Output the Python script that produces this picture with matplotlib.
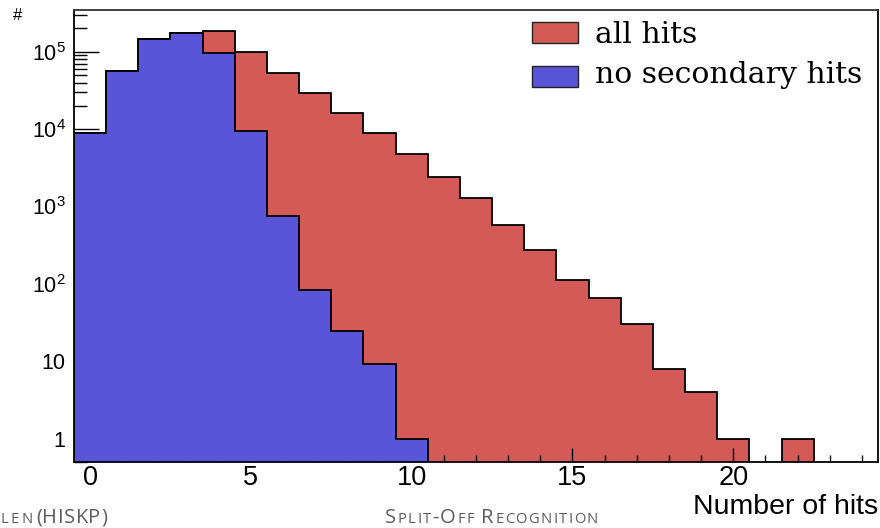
import numpy as np
import matplotlib
matplotlib.use("Agg")
import matplotlib.pyplot as plt
from matplotlib.patches import Rectangle
from matplotlib.ticker import FixedLocator, LogLocator, NullFormatter, FixedFormatter

# ---------------- data ----------------
bin_edges = [i - 0.5 for i in range(26)]          # 25 bins, centred on 0..24
all_hits = [8830, 56900, 146000, 176000, 185000, 98200, 53600, 29000, 16000,
            8830, 4720, 2380, 1300, 582, 277, 112, 65, 30, 8, 4, 1, 0, 1, 0, 0]
no_secondary_hits = [8830, 56900, 146000, 176000, 95300, 9530, 753, 83, 24.6,
                     9.1, 1, 0, 0, 0, 0, 0, 0, 0, 0, 0, 0, 0, 0, 0, 0]
legend_labels = ["all hits", "no secondary hits"]
x_major_ticks = [0, 5, 10, 15, 20]
y_major_ticks = [1, 10, 100, 1000, 10000, 100000]
y_tick_labels = ["1", "10", r"$\mathregular{10^{2}}$", r"$\mathregular{10^{3}}$",
                 r"$\mathregular{10^{4}}$", r"$\mathregular{10^{5}}$"]
x_label = "Number of hits"
y_label = "#"
footer_left_a = "len"
footer_left_b = "(HISKP)"
footer_mid = "Split-Off Recognition"

RED = "#d45a57"
BLUE = "#5a54d9"

plt.rcParams["mathtext.fontset"] = "custom"
plt.rcParams["mathtext.rm"] = "Liberation Sans"
plt.rcParams["mathtext.it"] = "Liberation Sans:italic"
plt.rcParams["mathtext.bf"] = "Liberation Sans:bold"

W, H = 880, 528
fig = plt.figure(figsize=(W / 100, H / 100), dpi=100)
ax = fig.add_axes([74 / W, 1 - 462 / H, (878 - 74) / W, (462 - 10) / H])
ax.set_yscale("log")

def positive(v):
    v = np.asarray(v, dtype=float)
    return np.where(v > 0, v, 1e-3)

ax.stairs(positive(all_hits), bin_edges, baseline=1e-3, fill=True,
          facecolor=RED, edgecolor="black", linewidth=1.3, zorder=1)
ax.stairs(positive(no_secondary_hits), bin_edges, baseline=1e-3, fill=True,
          facecolor=BLUE, edgecolor="black", linewidth=1.3, zorder=3)

ax.set_xlim(-0.5, 24.5)
ax.set_ylim(0.5, 3.46e5)

for s in ax.spines.values():
    s.set_zorder(5)
    s.set_linewidth(1.3)
ax.spines["top"].set_color("#333333")

ax.xaxis.set_major_locator(FixedLocator(x_major_ticks))
ax.xaxis.set_minor_locator(FixedLocator(range(0, 25)))
ax.yaxis.set_major_locator(FixedLocator(y_major_ticks))
ax.yaxis.set_major_formatter(FixedFormatter(y_tick_labels))
ax.yaxis.set_minor_locator(LogLocator(base=10, subs=np.arange(2, 10)))
ax.yaxis.set_minor_formatter(NullFormatter())

ax.tick_params(axis="x", which="major", direction="in", length=10, width=1.0,
               labelsize=19.5, pad=2, top=False)
ax.tick_params(axis="x", which="minor", direction="in", length=4.7, width=1.0, top=False)
ax.tick_params(axis="y", which="major", direction="in", length=18, width=1.0,
               labelsize=15.5, pad=6, right=False)
ax.tick_params(axis="y", which="minor", direction="in", length=9.4, width=1.0, right=False)
for lab in ax.get_xticklabels() + ax.get_yticklabels():
    lab.set_family("Liberation Sans")

# axis titles
fig.text(878 / W, 1 - 514 / H, x_label, ha="right", va="baseline",
         fontsize=20.5, family="Liberation Sans")
fig.text(18 / W, 1 - 15 / H, y_label, ha="center", va="center",
         fontsize=12, family="Liberation Sans")

# legend (ROOT-style, no visible border)
def px(x, y):
    return x / W, 1 - y / H

for i, (lab, col) in enumerate(zip(legend_labels, [RED, BLUE])):
    y_top = 22 + i * 44
    fig.add_artist(Rectangle(px(532, y_top + 21), 46 / W, 21 / H, facecolor=col,
                             edgecolor="#222222", lw=1.0, transform=fig.transFigure,
                             zorder=10))
    fig.text(*px(595, 43 + i * 40), lab, ha="left", va="baseline",
             fontsize=21.5, family="DejaVu Serif", zorder=10)

# footer (beamer slide fragment) in small caps, fitted to target width
renderer = fig.canvas.get_renderer()
GRAY = "#5c5c5c"
FOOT_FONT = "Open Sans"

def small_caps(x0, y0, text, width, big=14.5, small=10.6):
    items = []
    for ch in text:
        if ch == " ":
            items.append(None)
            continue
        if ch.islower():
            s, c = small, ch.upper()
        else:
            s, c = big, ch
        t = fig.text(0, 1 - y0 / H, c, fontsize=s, family=FOOT_FONT,
                     color=GRAY, ha="left", va="baseline")
        bb = t.get_window_extent(renderer)
        items.append((t, bb.width))
    space = big * 0.3
    natural = sum(it[1] for it in items if it) + space * items.count(None)
    gaps = len(items) - 1
    extra = (width - natural) / gaps if gaps > 0 else 0
    extra = max(extra, -0.5)
    xp = x0
    for it in items:
        if it is None:
            xp += space + extra
            continue
        t, w = it
        t.set_x(xp / W)
        xp += w + extra

small_caps(0, 523, footer_left_a, 33)
small_caps(36, 523, footer_left_b, 71)
small_caps(385, 523, footer_mid, 213)

fig.savefig("out.png", dpi=100)
